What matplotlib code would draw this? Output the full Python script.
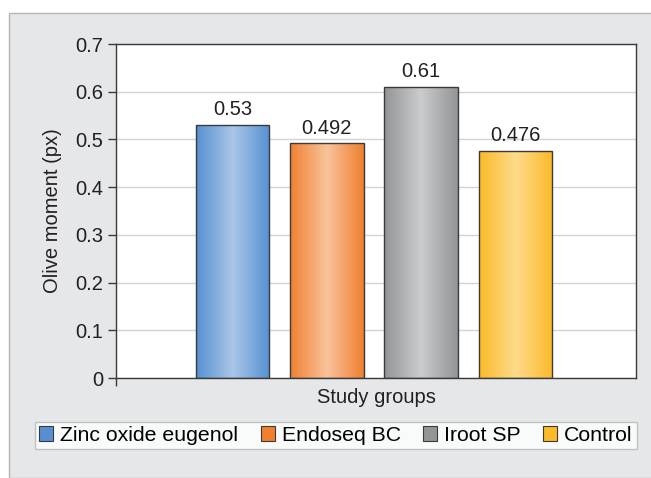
import matplotlib.pyplot as plt
import numpy as np
from matplotlib.colors import LinearSegmentedColormap
from matplotlib.patches import Rectangle, Patch

plt.rcParams['font.family'] = ['Liberation Sans', 'DejaVu Sans']

groups = ["Zinc oxide eugenol", "Endoseq BC", "Iroot SP", "Control"]
values = [0.53, 0.492, 0.61, 0.476]
labels = ["0.53", "0.492", "0.61", "0.476"]
dark = ["#5591d2", "#f08030", "#929496", "#fbba28"]
light = ["#aac6e8", "#f9c39b", "#cbcccd", "#fedb8c"]
yticks = [0, 0.1, 0.2, 0.3, 0.4, 0.5, 0.6, 0.7]

fig = plt.figure(figsize=(6.51, 4.78), dpi=100)
fig.patch.set_facecolor("white")
# grey panel behind the chart
fig.patches.append(Rectangle((9 / 651, 0), 1, 1 - 13 / 478, transform=fig.transFigure,
                             facecolor="#e6e7e8", edgecolor="#b5b6b8", linewidth=1, zorder=-10))

ax = fig.add_axes([116 / 651, 1 - 378 / 478, 520 / 651, 334 / 478])
ax.set_facecolor("white")

step = 0.1814
width = 0.1417
xs = [(i - 1.5) * step - 0.004 for i in range(len(groups))]
bars = ax.bar(xs, values, width=width, color="none", edgecolor="#3a3a3a", linewidth=1, zorder=3)

for b, d, l in zip(bars, dark, light):
    cmap = LinearSegmentedColormap.from_list("g", [d, l, d])
    grad = np.linspace(0, 1, 256).reshape(1, -1)
    x0, y0 = b.get_x(), b.get_y()
    im = ax.imshow(grad, cmap=cmap, aspect="auto", extent=[x0, x0 + b.get_width(), y0, y0 + b.get_height()],
                   zorder=2)
    im.set_clip_path(b)

for x, v, t in zip(xs, values, labels):
    ax.text(x, v + 0.012, t, ha="center", va="bottom", fontsize=14.5, color="#231f20", zorder=4)

ax.set_xlim(-0.5, 0.5)
ax.set_ylim(0, 0.7)
ax.set_yticks(yticks)
ax.set_yticklabels([f"{t:g}" for t in yticks], fontsize=14.5, color="#231f20")
ax.set_xticks([-0.5])
ax.set_xticklabels([""])
ax.tick_params(axis="both", direction="out", length=6, width=1, color="#3a3a3a", pad=3)
ax.grid(axis="y", color="#d2d2d2", linewidth=1, zorder=0)
ax.set_axisbelow(True)
for s in ax.spines.values():
    s.set_color("#3a3a3a")
    s.set_linewidth(1)

ax.set_ylabel("Olive moment (px)", fontsize=14.5, color="#231f20", labelpad=10)
ax.set_xlabel("Study groups", fontsize=14.5, color="#231f20", labelpad=-2)

handles = [Patch(facecolor=l, edgecolor="#3a3a3a", linewidth=0.8) for l in dark]
fig.legend(handles, groups, loc="center", bbox_to_anchor=(336 / 651, 1 - 435.5 / 478),
           ncol=4, frameon=True, fancybox=False, edgecolor="#b5b6b8", facecolor="white",
           fontsize=15.3, handlelength=0.66, handleheight=0.66, handletextpad=0.33, columnspacing=1.05,
           borderpad=0.2, borderaxespad=0)
fig.legend_ = None

fig.savefig("out.png", dpi=100)
